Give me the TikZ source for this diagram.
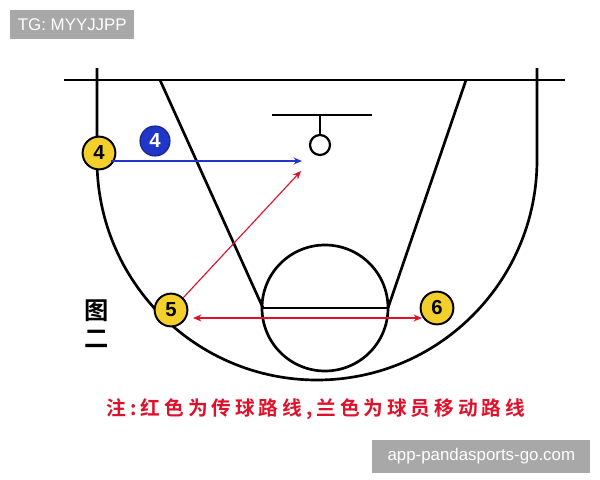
\documentclass[tikz,border=0pt]{standalone}
\usepackage{fontspec}
\setsansfont{Liberation Sans}
\newfontfamily\cjk{Noto Sans CJK SC}[BoldFont={Noto Sans CJK SC Bold}]
\newfontfamily\cjkwide{Noto Sans CJK SC Bold}[LetterSpace=20]
\usetikzlibrary{arrows.meta}

\definecolor{ballyellow}{HTML}{F2CF2A}
\definecolor{moveblue}{HTML}{1F36C8}
\definecolor{passred}{HTML}{E0102A}
\definecolor{markgray}{HTML}{A8A8A8}

\begin{document}
\begin{tikzpicture}[x=0.025cm, y=-0.025cm,
  court/.style={line width=1.9pt, black},
  player/.style={circle, draw=black, line width=1.4pt, fill=ballyellow, minimum size=0.82cm, inner sep=0pt, font=\sffamily\bfseries\Large},
  ballplayer/.style={circle, draw=moveblue!70!black, line width=0.8pt, fill=moveblue, text=white, minimum size=0.75cm, inner sep=0pt, font=\sffamily\bfseries\Large},
  move/.style={moveblue, line width=1pt, -{Stealth[length=6pt, width=5pt]}},
  pass/.style={passred, line width=0.8pt, -{Stealth[length=6pt, width=5pt]}},
  watermark/.style={fill=markgray, text=white, font=\sffamily\large, inner xsep=5pt, inner ysep=6pt, anchor=north west}
]
\useasboundingbox (0,0) rectangle (600,480);

%% COURT
\draw[court] (64,80) -- (565,80);
\draw[court] (97,68) -- (97,160) arc[start angle=180, end angle=0, radius=220] -- (537,68);
\draw[court] (160,80) -- (263,308);
\draw[court] (466,80) -- (388,308);
\draw[court] (263,308) -- (388,308);
\draw[court] (325,308) circle[radius=63];

% basket
\draw[court] (272,115) -- (372,115);
\draw[court] (320,115) -- (320,135);
\node[circle, draw=black, line width=1.6pt, minimum size=0.5cm, inner sep=0pt] (rim) at (320,145) {};

%% PLAYERS
\node[player] (p4) at (99,153) {4};
\node[ballplayer] (b4) at (155,141) {4};
\node[player] (p5) at (171,310) {5};
\node[player] (p6) at (437,308) {6};

\coordinate (move_end) at (302,161);
\coordinate (pass_end) at (301,171);
\coordinate (pass5) at (193,318);
\coordinate (pass6) at (422,318);

\draw[move] (p4.south east |- move_end) -- (move_end);
\draw[pass] (p5.north east) -- (pass_end);
\draw[pass, {Stealth[length=6pt, width=5pt]}-{Stealth[length=6pt, width=5pt]}] (pass5) -- (pass6);

%% LABELS
\node[font=\cjk\bfseries\LARGE] (fig_a) at (97,311) {图};
\node[font=\cjk\bfseries\LARGE] (fig_b) at (97,339) {二};
\node[font=\cjkwide\fontsize{14}{16}\selectfont, text=passred] (note) at (316,409) {注:红色为传球路线,兰色为球员移动路线};

% watermarks
\node[watermark, minimum width=3.1cm] (tg) at (10,10) {TG: MYYJJPP};
\node[watermark, minimum width=5.45cm] (site) at (372,440) {app-pandasports-go.com};
\end{tikzpicture}
\end{document}
